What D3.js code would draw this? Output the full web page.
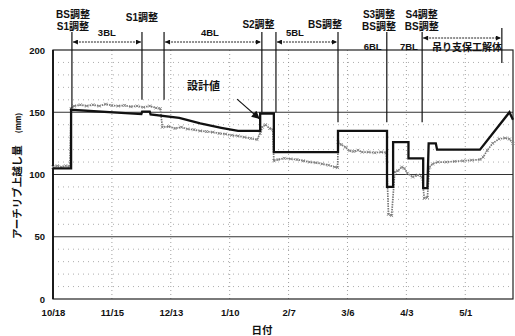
<!DOCTYPE html>
<html>
<head>
<meta charset="utf-8">
<script src="https://cdn.jsdelivr.net/npm/d3@7"></script>
<style>
  body { margin: 0; background: #fff; }
  text { fill: #111; }
</style>
</head>
<body>
<svg id="chart" width="515" height="336"></svg>
<script>
// Days elapsed since 10/18 and the date labels along the x axis
const tickDays = [0, 28, 56, 84, 112, 140, 168, 196];
const tickLabels = ["10/18", "11/15", "12/13", "1/10", "2/7", "3/6", "4/3", "5/1"];
const yTicks = [0, 50, 100, 150, 200];
const yMinor = [10, 20, 30, 40, 60, 70, 80, 90, 110, 120, 130, 140, 160, 170, 180, 190];

// Design camber (設計値), mm
const designDays = [0, 8.6, 8.6, 42, 42.4, 46, 46.4, 60, 70, 80, 88, 98.5, 98.5, 105, 105,
  135.5, 135.5, 158.8, 158.8, 161.7, 161.7, 169, 169, 176, 176, 178, 178.6, 182, 182.6, 203, 217, 218.7];
const designValues = [105, 105, 152, 148.5, 150.5, 150.5, 148.3, 145.5, 141, 137.5, 135, 135, 149, 149, 118,
  118, 135, 135, 90, 90, 126, 126, 113, 113, 89, 89, 125, 125, 120, 120, 150, 144];

// Measured camber, mm
const measuredDays = [0, 2, 4, 6, 8, 8.6, 10, 13, 16, 19, 22, 25, 28, 31, 34, 37, 40, 43, 46, 49, 51,
  52, 55, 58, 61, 64, 67, 70, 73, 76, 79, 82, 85, 88, 91, 94, 97, 98.5, 99.5, 101, 103, 104.5,
  105, 107, 110, 113, 116, 119, 122, 125, 128, 131, 134, 135.3,
  135.6, 137, 139, 141, 143, 145, 147, 150, 153, 156, 158.5,
  159.5, 161, 162.5, 164, 165.8, 167, 168.5, 171, 173.5, 175.5,
  176.5, 178, 179, 180.5, 183, 187, 191, 195, 199, 203, 204.5, 206.5, 209, 212, 215, 217, 218.7];
const measuredValues = [106, 107, 106, 107, 106.5, 153, 155, 156, 155, 156, 155, 156.5, 155.5, 155, 155.5, 154.5, 155, 154, 155, 153.5, 153,
  138, 138.5, 137, 138, 136.5, 136, 135, 134.5, 134, 133, 132.5, 131.5, 131, 130, 129, 128, 133, 138, 140, 137, 136,
  111, 112, 113, 112.5, 112, 111, 110, 109.5, 108.5, 107.5, 106, 105.5,
  126, 124, 122, 119, 118.5, 119.5, 118, 118, 117.5, 118, 117.5,
  68, 67, 102, 103, 106, 105, 101, 98, 99.5, 98,
  81, 81.5, 106, 108.5, 110, 110, 110.5, 111, 111.5, 112, 114, 119.5, 125, 128.5, 129.3, 128.5, 125];

// Construction events: vertical marker lines (day, lower end in mm)
const eventDays = [9, 42.3, 52.8, 99.3, 106, 135.5, 158.7, 175.5, 213.4];
const eventBottoms = [153, 160, 160, 150, 150, 142, 142, 142, 189.5];

// Adjustment notes above the plot
const noteTexts = [["BS調整", "S1調整"], ["S1調整"], ["S2調整"], ["BS調整"], ["S3調整", "BS調整"], ["S4調整", "BS調整"]];
const noteDays = [9.5, 42.3, 97.7, 129.3, 155, 175.3];

// Stage names and the spans they cover
const stageNames = ["3BL", "4BL", "5BL", "6BL", "7BL", "吊り支保工解体"];
const stageDays = [25.6, 74.6, 115, 152, 169.2, 196.8];
const spanStarts = [9, 52.8, 106, 175.5];
const spanEnds = [42.3, 99.3, 135.5, 213.4];

const svg = d3.select("#chart");
const L = 53, R = 513, T = 50, B = 299;
const x = d3.scaleLinear().domain([0, 218.7]).range([L, R]);
const y = d3.scaleLinear().domain([0, 200]).range([B, T]);
const jp = "'Noto Sans CJK JP', sans-serif";
const mixed = "'Liberation Sans', 'Noto Sans CJK JP', sans-serif";
const num = "'Liberation Sans', Arial, sans-serif";

// Arrowheads
const defs = svg.append("defs");
defs.append("marker").attr("id", "ah").attr("viewBox", "0 0 10 10")
  .attr("refX", 10).attr("refY", 5).attr("markerWidth", 6).attr("markerHeight", 5)
  .attr("orient", "auto-start-reverse").attr("markerUnits", "userSpaceOnUse")
  .append("path").attr("d", "M0,0 L10,5 L0,10 Z").attr("fill", "#111");
defs.append("marker").attr("id", "ah2").attr("viewBox", "0 0 10 10")
  .attr("refX", 10).attr("refY", 5).attr("markerWidth", 9).attr("markerHeight", 8)
  .attr("orient", "auto").attr("markerUnits", "userSpaceOnUse")
  .append("path").attr("d", "M0,0 L10,5 L0,10 Z").attr("fill", "#111");

// Minor dotted grid
svg.append("g").selectAll("line").data(yMinor).join("line")
  .attr("x1", L).attr("x2", R).attr("y1", d => y(d)).attr("y2", d => y(d))
  .attr("stroke", "#999").attr("stroke-width", 0.8).attr("stroke-dasharray", "1,4");
svg.append("g").selectAll("line").data(tickDays.slice(1)).join("line")
  .attr("x1", d => x(d)).attr("x2", d => x(d)).attr("y1", T).attr("y2", B)
  .attr("stroke", "#888").attr("stroke-width", 0.8).attr("stroke-dasharray", "1,3");

// Solid gridlines at 50, 100, 150
svg.append("g").selectAll("line").data([50, 100, 150]).join("line")
  .attr("x1", L).attr("x2", R).attr("y1", d => y(d)).attr("y2", d => y(d))
  .attr("stroke", "#333").attr("stroke-width", 1);

// Frame
svg.append("rect").attr("x", L).attr("y", T).attr("width", R - L).attr("height", B - T)
  .attr("fill", "none").attr("stroke", "#222").attr("stroke-width", 1.2);
svg.append("line").attr("x1", L).attr("x2", L).attr("y1", T).attr("y2", B)
  .attr("stroke", "#111").attr("stroke-width", 1.8);

// Axes
const xAxis = svg.append("g").attr("transform", `translate(0,${B})`)
  .call(d3.axisBottom(x).tickValues(tickDays).tickFormat((d, i) => tickLabels[i]).tickSize(0).tickPadding(10));
xAxis.select(".domain").remove();
xAxis.selectAll("text").attr("font-family", num).attr("font-size", 9.5).attr("font-weight", "bold").attr("fill", "#111");

const yAxis = svg.append("g").attr("transform", `translate(${L},0)`)
  .call(d3.axisLeft(y).tickValues(yTicks).tickSize(0).tickPadding(8));
yAxis.select(".domain").remove();
yAxis.selectAll("text").attr("font-family", num).attr("font-size", 9.5).attr("font-weight", "bold").attr("fill", "#111");

// Axis titles
svg.append("text").attr("x", 262).attr("y", 334).attr("text-anchor", "middle")
  .attr("font-family", jp).attr("font-size", 10.5).attr("font-weight", "bold").text("日付");
const yt = svg.append("text").attr("transform", "translate(21,176) rotate(-90)")
  .attr("text-anchor", "middle").attr("font-family", jp).attr("font-weight", "bold").attr("font-size", 10.5);
yt.append("tspan").text("アーチリブ上越し量");
yt.append("tspan").attr("dx", 12).attr("font-size", 7.5).text("(mm)");

// Measured series
const measured = measuredDays.map((d, i) => [d, measuredValues[i]]);
const line = d3.line().x(d => x(d[0])).y(d => y(d[1]));
svg.append("path").datum(measured).attr("d", line).attr("fill", "none")
  .attr("stroke", "#777").attr("stroke-width", 1.7).attr("stroke-dasharray", "1.5,1");
svg.append("g").selectAll("path").data(measured).join("path")
  .attr("d", d => `M${x(d[0]) - 1.5},${y(d[1]) - 1.5}l3,3M${x(d[0]) - 1.5},${y(d[1]) + 1.5}l3,-3`)
  .attr("stroke", "#888").attr("stroke-width", 0.9);

// Design series
const design = designDays.map((d, i) => [d, designValues[i]]);
svg.append("path").datum(design).attr("d", line).attr("fill", "none")
  .attr("stroke", "#111").attr("stroke-width", 2.3).attr("stroke-linejoin", "miter");

// Event marker lines
svg.append("g").selectAll("line").data(eventDays).join("line")
  .attr("x1", d => x(d)).attr("x2", d => x(d))
  .attr("y1", (d, i) => i === eventDays.length - 1 ? 28 : 32)
  .attr("y2", (d, i) => y(eventBottoms[i]))
  .attr("stroke", "#111").attr("stroke-width", 1.2);

// Span arrows
svg.append("g").selectAll("line").data(spanStarts).join("line")
  .attr("x1", d => x(d) + 1).attr("x2", (d, i) => x(spanEnds[i]) - 1)
  .attr("y1", (d, i) => i === 3 ? 38 : 42).attr("y2", (d, i) => i === 3 ? 38 : 42)
  .attr("stroke", "#222").attr("stroke-width", 1).attr("stroke-dasharray", "2,1")
  .attr("marker-start", "url(#ah)").attr("marker-end", "url(#ah)");

// Adjustment notes
const notes = svg.append("g").attr("font-family", mixed).attr("font-size", 10).attr("font-weight", "bold");
const noteY = [[17.5, 29.5], [21], [28], [28], [17.5, 29.5], [17.5, 29.5]];
noteTexts.forEach((lines, i) => {
  lines.forEach((t, j) => {
    notes.append("text").attr("x", x(noteDays[i])).attr("y", noteY[i][j])
      .attr("text-anchor", "middle").text(t);
  });
});

// Stage names
const stageY = [36, 36, 36, 50, 50, 51];
svg.append("g").selectAll("text").data(stageNames).join("text")
  .attr("x", (d, i) => x(stageDays[i])).attr("y", (d, i) => stageY[i])
  .attr("text-anchor", "middle").attr("font-weight", "bold")
  .attr("font-family", mixed)
  .attr("font-size", (d, i) => i === 5 ? 10 : 9.5)
  .text(d => d);

// Design value callout
svg.append("text").attr("x", x(71.6)).attr("y", y(168)).attr("text-anchor", "middle")
  .attr("font-family", jp).attr("font-size", 11).attr("font-weight", "bold").text("設計値");
svg.append("line").attr("x1", x(87.5)).attr("y1", y(160.6)).attr("x2", x(98.3)).attr("y2", y(144.6))
  .attr("stroke", "#111").attr("stroke-width", 1.1).attr("marker-end", "url(#ah2)");
</script>
</body>
</html>
